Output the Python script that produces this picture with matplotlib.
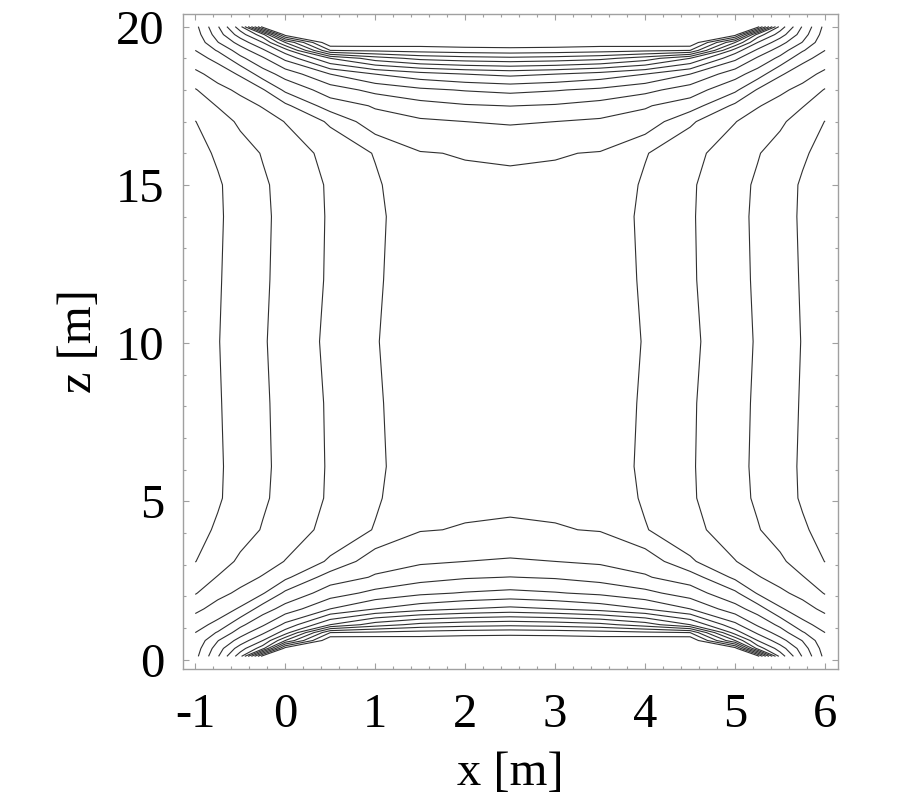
import numpy as np
import matplotlib
matplotlib.use("Agg")
import matplotlib.pyplot as plt
from matplotlib.ticker import MultipleLocator

# grid coordinates [m]
x_m = [-1.0, -0.75, -0.5, -0.25, 0.0, 0.5, 1.0, 1.5, 2.0, 2.5,
       3.0, 3.5, 4.0, 4.5, 5.0, 5.25, 5.5, 5.75, 6.0]
z_m = [0.1, 0.35, 0.6, 0.85, 1.1, 1.6, 2.1, 2.6, 3.1, 4.1, 5.1, 6.1, 8.1,
       10.05, 12.0, 14.0, 15.0, 16.0, 17.0, 17.5, 18.0, 18.5, 19.0, 19.25,
       19.5, 19.75, 20.0]

# field values (contour-level units) for one symmetric quarter:
# rows z = 10.05 ... 20, columns x = -1 ... 2.5
field_quarter = [
    [0.50, 0.96, 1.43, 1.91, 2.36, 3.20, 3.97, 4.30, 4.42, 4.50],
    [0.47, 0.92, 1.38, 1.86, 2.30, 3.12, 3.92, 4.35, 4.53, 4.60],
    [0.45, 0.88, 1.35, 1.83, 2.27, 3.10, 3.82, 4.55, 4.68, 4.75],
    [0.55, 0.90, 1.38, 1.87, 2.30, 3.12, 3.87, 4.70, 4.82, 4.85],
    [0.70, 1.12, 1.60, 2.06, 2.47, 3.30, 4.06, 4.95, 5.05, 5.10],
    [0.98, 1.55, 2.17, 2.57, 3.03, 4.15, 5.63, 5.85, 6.00, 6.11],
    [1.45, 2.05, 2.63, 3.07, 3.78, 5.50, 6.09, 6.60, 6.90, 7.02],
    [1.93, 2.70, 3.20, 3.90, 5.20, 6.50, 7.29, 7.80, 8.07, 8.26],
    [2.75, 3.40, 4.13, 5.50, 6.40, 8.00, 9.00, 9.60, 10.00, 10.25],
    [3.60, 4.30, 5.75, 6.85, 8.25, 11.00, 12.50, 13.30, 13.60, 13.75],
    [4.00, 5.10, 6.50, 7.80, 9.50, 15.00, 15.20, 15.40, 15.55, 15.64],
    [4.25, 5.95, 7.40, 9.00, 12.00, 16.90, 16.80, 16.60, 16.70, 16.70],
    [4.50, 6.50, 8.50, 10.60, 16.50, 16.95, 16.90, 16.85, 16.90, 16.90],
    [4.70, 6.90, 9.60, 16.50, 16.90, 17.00, 17.00, 17.00, 17.00, 17.00],
]

levels = list(range(1, 17))

x_ticks = [-1, 0, 1, 2, 3, 4, 5, 6]
z_ticks = [0, 5, 10, 15, 20]

# assemble the full symmetric table
q = np.array(field_quarter)
upper = np.hstack([q, q[:, -2::-1]])
F = np.vstack([upper[:0:-1], upper])
X, Z = np.meshgrid(x_m, z_m)

plt.rcParams['font.family'] = ['Liberation Serif', 'DejaVu Serif']

fig = plt.figure(figsize=(8.99, 8.0), dpi=100)
ax = fig.add_axes([0.2032, 0.16375, 0.7286, 0.81875])

ax.contour(X, Z, F, levels=levels, colors='#303030', linewidths=0.8)

ax.set_xlim(-1.14, 6.14)
ax.set_ylim(-0.3, 20.4)

ax.set_xticks(x_ticks)
ax.set_xticklabels([str(v) for v in x_ticks])
ax.set_yticks(z_ticks)
ax.set_yticklabels([str(v) for v in z_ticks])
ax.xaxis.set_minor_locator(MultipleLocator(0.2))
ax.yaxis.set_minor_locator(MultipleLocator(1))

frame_col = '#a0a0a0'
for s in ax.spines.values():
    s.set_color(frame_col)
    s.set_linewidth(1.0)

ax.tick_params(which='both', direction='in', top=True, right=True,
               color=frame_col, width=0.8)
ax.tick_params(which='major', length=4.5)
ax.tick_params(which='minor', length=2.5)
ax.tick_params(axis='x', which='major', labelsize=35, pad=17)
ax.tick_params(axis='y', which='major', labelsize=35, pad=13)

ax.set_xlabel('x [m]', fontsize=35)
ax.set_ylabel('z [m]', fontsize=35)
ax.xaxis.set_label_coords(0.5, -0.125)
ax.yaxis.set_label_coords(-0.125, 0.5)

fig.savefig('out.png', dpi=100)
